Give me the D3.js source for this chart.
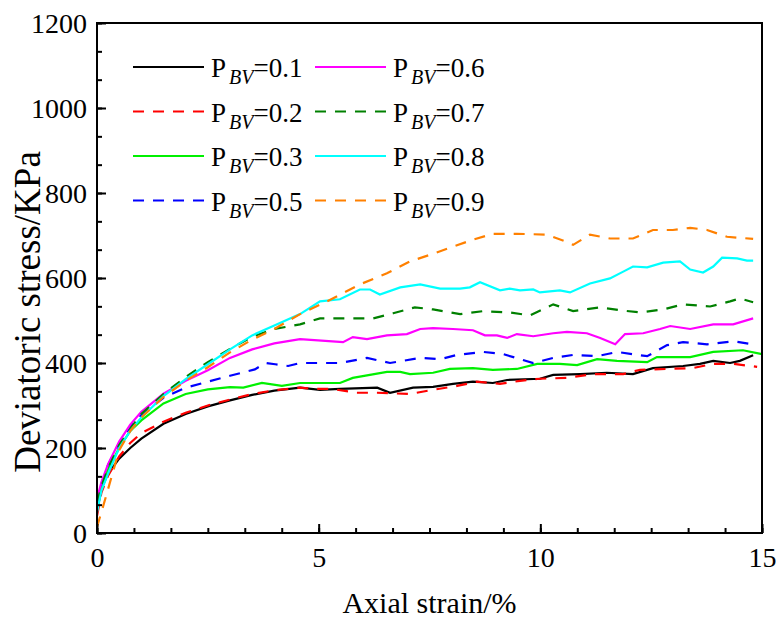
<!DOCTYPE html>
<html><head><meta charset="utf-8">
<script src="https://cdn.jsdelivr.net/npm/d3@7"></script>
<style>body{margin:0;background:#fff}svg{display:block}</style>
</head><body>
<script>
const xTicks=[0,5,10,15];
const yTicks=[0,200,400,600,800,1000,1200];
const labels=["0.1","0.2","0.3","0.5","0.6","0.7","0.8","0.9"];

const s01x=[0,0.1,0.25,0.5,0.75,1.0,1.5,2.0,2.5,3.0,3.5,4.0,4.58,5.03,5.48,6.32,6.61,7.13,7.58,8.03,8.48,8.93,9.25,9.99,10.29,10.9,11.5,12.09,12.54,13.22,13.6,13.9,14.28,14.5,14.8];
const s01y=[50,105,140,175,200,222,257,280,298,312,325,335,342,337,339,342,330,342,344,351,356,353,360,363,372,374,377,374,388,393,398,405,400,405,418];
const s02x=[0,0.1,0.25,0.5,0.75,1.0,1.5,2.0,2.5,3.0,3.5,4.0,4.58,4.87,5.3,5.86,6.32,7.06,7.58,8.12,8.57,9.09,9.54,9.99,10.6,11.19,11.87,12.25,12.86,13.44,13.9,14.35,14.89];
const s02y=[40,95,135,180,212,235,262,283,300,314,327,336,342,339,339,330,330,327,337,346,356,351,358,363,365,374,374,384,386,388,398,398,391];
const s03x=[0,0.1,0.25,0.5,0.75,1.0,1.5,2.0,2.5,3.0,3.3,3.72,4.17,4.58,5.48,5.77,6.54,6.84,7.06,7.58,7.96,8.48,8.93,9.47,9.93,10.44,10.83,11.28,11.73,12.41,12.63,13.38,13.9,14.57,15.0];
const s03y=[55,110,150,200,240,265,305,327,338,343,342,353,346,353,353,365,379,379,374,377,386,388,384,386,398,398,395,409,405,402,414,414,426,430,421];
const s05x=[0,0.1,0.25,0.5,0.75,1.0,1.5,2.0,2.5,3.0,3.56,3.8,4.02,4.31,4.58,5.48,6.09,6.61,7.29,7.74,8.12,8.71,9.16,9.84,10.29,10.74,11.28,11.73,12.41,12.86,13.22,13.76,14.35,14.8];
const s05y=[65,115,160,212,250,278,318,342,356,370,385,400,397,393,400,400,412,400,412,409,419,426,421,400,412,419,416,426,416,442,449,444,451,444];
const s06x=[0,0.1,0.25,0.5,0.75,1.0,1.5,2.0,2.5,3.0,3.5,4.0,4.58,5.55,5.77,6.09,6.54,6.99,7.29,7.58,8.03,8.48,8.75,9.02,9.25,9.47,9.84,10.29,10.6,11.05,11.35,11.69,11.91,12.32,12.7,12.93,13.38,13.9,14.35,14.8];
const s06y=[80,120,162,215,255,285,328,358,383,412,432,446,456,449,461,456,465,468,480,482,480,477,465,465,459,468,463,470,473,470,459,444,468,470,480,487,480,491,491,505];
const s07x=[0,0.1,0.25,0.5,0.75,1.0,1.5,2.0,2.5,3.0,3.5,4.0,4.58,5.03,5.7,6.23,6.68,7.17,7.58,8.19,8.71,9.31,9.77,10.29,10.74,11.35,11.8,12.25,12.77,13.22,13.83,14.28,14.5,14.8];
const s07y=[70,110,152,207,245,280,327,367,402,433,462,480,491,505,505,505,517,531,526,515,522,519,512,538,522,531,524,519,526,538,533,545,552,543];
const s08x=[0,0.1,0.25,0.5,0.75,1.0,1.5,2.0,2.5,3.0,3.5,4.0,4.58,5.03,5.48,5.93,6.16,6.38,6.84,7.29,7.74,8.19,8.41,8.64,9.09,9.31,9.54,9.84,9.99,10.44,10.67,11.12,11.57,11.87,12.09,12.41,12.77,13.15,13.38,13.67,13.9,14.1,14.44,14.66,14.8];
const s08y=[49,100,140,200,240,272,322,362,397,432,465,488,515,545,550,573,573,561,578,585,575,575,578,590,571,575,571,573,566,571,566,587,599,615,627,625,636,639,620,613,627,648,646,641,641];
const s09x=[0,0.2,0.5,0.75,1.0,1.5,2.0,2.5,3.0,3.5,4.0,4.58,5.19,5.93,6.54,7.06,7.58,8.03,8.48,8.93,9.47,10.15,10.6,10.74,11.12,11.57,12.09,12.54,12.99,13.38,13.76,14.21,14.8];
const s09y=[14,85,195,240,272,320,358,390,425,455,480,515,545,585,611,639,657,674,690,704,704,702,685,678,702,693,693,713,713,718,713,697,692];

const colors=["#000000","#ff0000","#00f000","#0000ff","#ff00ff","#008000","#00ffff","#ff8000"];
const dashed=[false,true,false,true,false,true,false,true];
const xs=[s01x,s02x,s03x,s05x,s06x,s07x,s08x,s09x];
const ys=[s01y,s02y,s03y,s05y,s06y,s07y,s08y,s09y];

const W=776,H=621;
const L=97,R=762,T=23,B=533;
const svg=d3.select("body").append("svg").attr("width",W).attr("height",H);
const x=d3.scaleLinear().domain([0,15]).range([L,R]);
const y=d3.scaleLinear().domain([0,1200]).range([B,T]);
const font="Liberation Serif";

const line=d3.line().x(d=>x(d[0])).y(d=>y(d[1]));
xs.forEach((sx,i)=>{
  const pts=sx.map((v,j)=>[v,ys[i][j]]);
  svg.append("path").attr("d",line(pts)).attr("fill","none")
    .attr("stroke",colors[i]).attr("stroke-width",2.2)
    .attr("stroke-dasharray",dashed[i]?"11,9":null);
});

// axes
const xMinor=d3.range(0,15.001,5/6);
const yMinor=d3.range(0,1200.1,200/3);
const gxm=svg.append("g").attr("transform",`translate(0,${B})`)
  .call(d3.axisBottom(x).tickValues(xMinor).tickSize(-5).tickFormat(""));
const gx=svg.append("g").attr("transform",`translate(0,${B})`)
  .call(d3.axisBottom(x).tickValues(xTicks).tickSize(-9).tickPadding(14).tickFormat(d3.format("d")));
const gym=svg.append("g").attr("transform",`translate(${L},0)`)
  .call(d3.axisLeft(y).tickValues(yMinor).tickSize(-5).tickFormat(""));
const gy=svg.append("g").attr("transform",`translate(${L},0)`)
  .call(d3.axisLeft(y).tickValues(yTicks).tickSize(-9).tickPadding(10).tickFormat(d3.format("d")));
[gxm,gx,gym,gy].forEach(g=>{
  g.attr("font-family",font).attr("font-size",28);
  g.select(".domain").remove();
  g.selectAll(".tick line").attr("stroke","#000").attr("stroke-width",2);
  g.selectAll("text").attr("font-family",font).attr("font-size",28).attr("fill","#000");
});
gx.selectAll("text").attr("dy","0.71em");
gy.selectAll("text").attr("dy","0.34em");

svg.append("rect").attr("x",L).attr("y",T).attr("width",R-L).attr("height",B-T)
  .attr("fill","none").attr("stroke","#000").attr("stroke-width",2);

svg.append("text").attr("x",(L+R)/2).attr("y",613).attr("text-anchor","middle")
  .attr("font-family",font).attr("font-size",30).text("Axial strain/%");
svg.append("text").attr("transform","translate(40,312) rotate(-90)").attr("text-anchor","middle")
  .attr("font-family",font).attr("font-size",37).text("Deviatoric stress/KPa");

// legend
const lg=svg.append("g").attr("font-family",font);
labels.forEach((lab,i)=>{
  const col=Math.floor(i/4),row=i%4;
  const lx=col===0?133:315, tx=col===0?211:393;
  const ly=67+row*44.5;
  lg.append("line").attr("x1",lx).attr("x2",lx+71).attr("y1",ly).attr("y2",ly)
    .attr("stroke",colors[i]).attr("stroke-width",2.2)
    .attr("stroke-dasharray",dashed[i]?"11,9":null);
  const t=lg.append("text").attr("x",tx).attr("y",ly+10)
    .attr("font-family",font).attr("font-size",27);
  t.append("tspan").text("P");
  t.append("tspan").attr("dx",3).attr("dy",7).attr("font-size",20).attr("font-style","italic").text("BV");
  t.append("tspan").attr("dy",-7).text("="+lab);
});
</script>
</body></html>
